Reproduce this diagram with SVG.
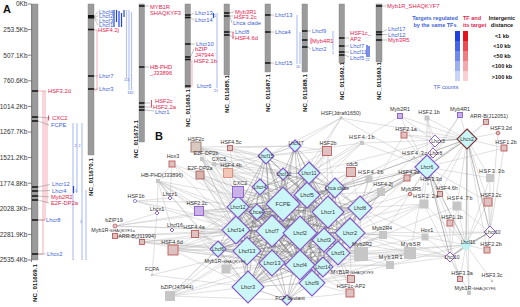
<svg xmlns="http://www.w3.org/2000/svg" width="520" height="307" viewBox="0 0 520 307">
<style>
text{font-family:"Liberation Sans",Arial,sans-serif}
.ax{font-size:6.5px;fill:#333;text-anchor:end}
.g{font-size:5.8px}
.r{fill:#e3244f}
.b{fill:#3f63d4}
.nc{font-size:6.2px;font-weight:bold;fill:#111}
.bar{fill:#9b9b9b;stroke:#7d7d7d;stroke-width:.4}
.band{stroke:#111;stroke-width:1.4;fill:none}
.pk{stroke:#f4aab8;stroke-width:1;fill:none}
.rk{stroke:#e3244f;stroke-width:.8;fill:none}
.lb{stroke:#b4c4f2;stroke-width:1.2;fill:none}
.db{stroke:#2444e0;stroke-width:1.2;fill:none}
.ld{stroke:#666;stroke-width:.4;fill:none}
.num{font-size:3.6px;fill:#3f63d4}
.e1{stroke:#bababa;stroke-width:.45;fill:none}
.e2{stroke:#6e6e6e;stroke-width:.45;fill:none;opacity:.85}
.e3{stroke:#858585;stroke-width:.6;fill:none}
.dm{fill:#cbf6f7;stroke:#8456c9;stroke-width:1.1}
.dw{fill:#fff;stroke:#8456c9;stroke-width:.9}
.dc{fill:#bff2f2}
.tg{fill:#c6c6c6}
.tr{fill:#dec2c2;stroke:#bf5a5a;stroke-width:.9}
.tp{fill:#c9b3e6;stroke:#8a5ccb;stroke-width:.9}
.tb{fill:#d9c9c1;stroke:#9b7a6d;stroke-width:.9}
.nl{font-size:5.4px;fill:#333;text-anchor:middle}
.sp{letter-spacing:.7px}
.il{font-size:5.6px;fill:#333;text-anchor:middle}
.is{font-size:5px;fill:#333;text-anchor:middle}
.sc{font-size:4.2px}
.lg{font-size:5.5px;font-weight:bold;text-anchor:middle}
</style>

<text x="3" y="13" style="font-size:11px;font-weight:bold;fill:#111">A</text>

<g id="axis">
<path d="M31.5 4V262M28 4H31.5M28 29.6H31.5M28 55.2H31.5M28 80.8H31.5M28 106.4H31.5M28 132H31.5M28 157.6H31.5M28 183.2H31.5M28 208.8H31.5M28 234.4H31.5M28 260H31.5" stroke="#333" stroke-width=".6" fill="none"/>
<text class="ax" x="27.5" y="6.3">0Kb</text>
<text class="ax" x="27.5" y="31.9">253.5Kb</text>
<text class="ax" x="27.5" y="57.5">507.1Kb</text>
<text class="ax" x="27.5" y="83.1">760.6Kb</text>
<text class="ax" x="27.5" y="108.7">1014.2Kb</text>
<text class="ax" x="27.5" y="134.3">1267.7Kb</text>
<text class="ax" x="27.5" y="159.9">1521.2Kb</text>
<text class="ax" x="27.5" y="185.5">1774.8Kb</text>
<text class="ax" x="27.5" y="211.1">2028.3Kb</text>
<text class="ax" x="27.5" y="236.7">2281.9Kb</text>
<text class="ax" x="27.5" y="262.3">2535.4Kb</text>
</g>

<g id="chr1">
<path class="pk" d="M38 91H46M43 91V254H38M45 91V220H38M47 118V203"/>
<path class="lb" d="M73 123V257M77 123V193M82 123V257M86 190V257"/>
<path class="db" d="M73.5 186V193"/>
<rect class="bar" x="32" y="4" width="6" height="256"/>
<path class="band" d="M32 91h6M32 117h6M32 121h6M32 187h6M32 191h6M32 196h6M32 200h6M32 220h6M32 254h6"/>
<path class="ld" d="M38 117L50 118M38 121L49 125M38 187L50 184.5M38 191L50 190.5M38 196L49 197M38 200L49 203M38 220H45M38 254H46"/>
<path class="rk" d="M48.5 115.5V120.5"/>
<text class="g r" x="48" y="93">HSF3.2d</text>
<text class="g r" x="52" y="120">CXC2</text>
<text class="g b" x="51" y="127">FCPE</text>
<text class="g b" x="52" y="186">Lhcr12</text>
<text class="g b" x="52" y="192.5">Lhcr4</text>
<text class="g r" x="51" y="199">Myb2R2</text>
<text class="g r" x="51" y="205">E2F-DP2a</text>
<text class="g b" x="46" y="222">Lhcr8</text>
<text class="g b" x="47" y="256">Lhcx2</text>
<text class="num" x="74.5" y="147">2</text><text class="num" x="78.5" y="147">2</text>
<text class="num" x="75" y="192">1</text><text class="num" x="80" y="223">1</text>
<text class="num" x="72" y="260">1</text><text class="num" x="81" y="260">1</text><text class="num" x="85" y="260">1</text>
<text class="nc" transform="translate(37.2,302) rotate(-90)">NC_011669.1</text>
</g>

<g id="chr2">
<path class="pk" d="M94 30H97V90H94"/>
<path class="db" d="M114 10V27M116.5 10V22M119 11V27M121.5 13V27M124 10V17"/>
<path class="lb" d="M126.5 10V78M129 10V90M131.5 12V90"/>
<rect class="bar" x="88" y="4" width="6" height="151"/>
<rect x="88" y="15" width="6" height="3.5" fill="#111"/>
<path class="band" d="M88 29.5h6M88 76h6M88 89h6"/>
<path class="ld" d="M94 17L98 11.5M94 17L98 16M94 17L98 20.5M94 17.5L98 25M94 76H98M94 89H98"/>
<text class="g b" x="99" y="13.5">Lhcf4</text>
<text class="g b" x="99" y="18">Lhcf2</text>
<text class="g b" x="99" y="22.5">Lhcf3</text>
<text class="g b" x="99" y="27">Lhcf1</text>
<text class="g r" x="98" y="32">HSF4.2j</text>
<text class="g b" x="99" y="78">Lhcr7</text>
<text class="g b" x="99" y="91">Lhcr3</text>
<text class="num" x="124" y="81">111</text>
<text class="num" x="127.5" y="93.5">332</text>
<text class="nc" transform="translate(93.2,196) rotate(-90)">NC_011670.1</text>
</g>

<g id="chr3">
<rect class="bar" x="139" y="4" width="5.5" height="138"/>
<path class="band" d="M139 6h5.5M139 67h5.5M139 103h5.5M139 107h5.5M139 110h5.5"/>
<path class="ld" d="M144.5 6H149M144.5 67H149M144.5 103H150M144.5 107H151M144.5 110L154 111"/>
<path class="rk" d="M151.5 100V107.5"/>
<text class="g r" x="150" y="9">MYB1R</text>
<text class="g r" x="150" y="14.5">SHAQKYF3</text>
<text class="g r" x="150" y="69">HB-PHD</text>
<text class="g r" x="150" y="75">_J33896</text>
<text class="g r" x="155" y="103">HSF2c</text>
<text class="g r" x="153" y="108.5">HSF2.2a</text>
<text class="g b" x="155" y="114">Lhcr1</text>
<text class="nc" transform="translate(138.2,158) rotate(-90)">NC_011672.1</text>
</g>

<g id="chr4">
<path class="pk" d="M190 61H192V86H190"/>
<path class="lb" d="M217 13V88"/>
<path class="db" d="M213.5 13V18"/>
<rect class="bar" x="185" y="4" width="5.5" height="84"/>
<path class="band" d="M185 15h5.5M185 17.5h5.5M185 44h5.5M185 57h5.5M185 59.5h5.5M185 86h5.5"/>
<path class="ld" d="M190.5 15L194 13M190.5 17.5L194 20M190.5 44H195M190.5 57L194 49"/>
<text class="g b" x="195" y="15">Lhcr13</text>
<text class="g b" x="195" y="22">Lhcr14</text>
<text class="g b" x="196" y="45.5">Lhcr10</text>
<text class="g r" x="195" y="51">bZIP</text>
<text class="g r" x="195" y="56.5">J47944</text>
<text class="g r" x="194" y="63">HSF2.1b</text>
<text class="g b" x="197" y="88">Lhcr6</text>
<text class="num" x="214" y="17">1</text>
<text class="num" x="214" y="92">21</text>
<text class="nc" transform="translate(189.7,127) rotate(-90)">NC_011683.1</text>
</g>

<g id="chr5">
<rect class="bar" x="224" y="4" width="5.5" height="71"/>
<path class="band" d="M224 13h5.5M224 16h5.5M224 32h5.5M224 35h5.5"/>
<path class="ld" d="M229.5 13L234 12M229.5 16H233M229.5 16L232 23M229.5 32H234M229.5 35L234 38"/>
<path class="rk" d="M233 32V39"/>
<text class="g r" x="235" y="14">Myb3R1</text>
<text class="g r" x="234" y="18.5">HSF3.2c</text>
<text class="g b" x="233" y="25">Lhca clade</text>
<text class="g b" x="235" y="34">Lhcf8</text>
<text class="g r" x="235" y="40">HSF4.6d</text>
<text class="nc" transform="translate(228.7,113) rotate(-90)">NC_011685.1</text>
</g>

<g id="chr6">
<path class="lb" d="M297 15V64M300 32V64"/>
<rect class="bar" x="265" y="4" width="5.5" height="68"/>
<path class="band" d="M265 15h5.5M265 32h5.5M265 63h5.5"/>
<path class="ld" d="M270.5 15H274M270.5 32H274M270.5 63H274"/>
<text class="g b" x="275" y="17">Lhcf13</text>
<text class="g b" x="275" y="34">Lhca4</text>
<text class="g b" x="275" y="65">Lhcf15</text>
<text class="num" x="296" y="68">10</text>
<text class="nc" transform="translate(269.7,112) rotate(-90)">NC_011687.1</text>
</g>

<g id="chr7">
<path class="lb" d="M333 31V50"/>
<rect class="bar" x="302" y="4" width="5.5" height="68"/>
<path class="band" d="M302 31h5.5M302 40h5.5M302 47h5.5"/>
<path class="ld" d="M307.5 31H311M307.5 47L311 49"/>
<path class="rk" d="M311 38V44"/>
<text class="g b" x="312" y="33">Lhcf9</text>
<text class="g r" x="312" y="43">Myb4R1</text>
<text class="g b" x="312" y="51">Lhcr2</text>
<text class="num" x="332" y="54">1</text>
<text class="nc" transform="translate(306.7,112) rotate(-90)">NC_011688.1</text>
</g>

<g id="chr8">
<path class="db" d="M367 45V57M369 46V57"/>
<rect class="bar" x="339" y="4" width="5.5" height="59"/>
<path class="band" d="M339 38h5.5M339 46h5.5M339 52h5.5M339 55h5.5"/>
<path class="ld" d="M344.5 38H349M344.5 46H349M344.5 52H349M344.5 55L349 57"/>
<text class="g r" x="350" y="35">HSF1c_</text>
<text class="g r" x="350" y="40.5">AP2</text>
<text class="g b" x="350" y="48">Lhcf7</text>
<text class="g b" x="350" y="54">Lhcf11</text>
<text class="g b" x="350" y="59.5">Lhcf5</text>
<text class="num" x="365.5" y="61">22</text>
<text class="nc" transform="translate(343.7,100) rotate(-90)">NC_011692.1</text>
</g>

<g id="chr9">
<rect class="bar" x="376" y="4" width="6" height="58"/>
<path class="band" d="M376 6h6M376 32h6M376 34.5h6M376 40h6"/>
<path class="ld" d="M382 6H386M382 32L387 29.5M382 34.5L387 34.5M382 40H387"/>
<text class="g r" x="387" y="8">Myb1R_SHAQKYF7</text>
<text class="g b" x="388" y="31">Lhcf17</text>
<text class="g b" x="388" y="36.5">Lhcf12</text>
<text class="g r" x="388" y="42">Myb3R5</text>
<text class="nc" transform="translate(381.2,100) rotate(-90)">NC_011693.1</text>
</g>

<g id="legend">
<text class="lg b" x="435" y="19.5">Targets regulated</text>
<text class="lg b" x="435" y="26.5">by the same TFs</text>
<text class="lg r" x="463" y="19.5" style="text-anchor:start">TF and</text>
<text class="lg r" x="463" y="26.5" style="text-anchor:start">its target</text>
<text class="lg" x="502" y="19.5" fill="#111">Intergenic</text>
<text class="lg" x="502" y="26.5" fill="#111">distance</text>
<rect x="455" y="31" width="5" height="10" fill="#1f3fe0"/>
<rect x="455" y="41" width="5" height="10" fill="#4565e6"/>
<rect x="455" y="51" width="5" height="10" fill="#6f89ec"/>
<rect x="455" y="61" width="5" height="10" fill="#9cb0f2"/>
<rect x="455" y="71" width="5" height="10" fill="#c9d4f8"/>
<rect x="463" y="31" width="5" height="10" fill="#e3141e"/>
<rect x="463" y="41" width="5" height="10" fill="#ea4a50"/>
<rect x="463" y="51" width="5" height="10" fill="#f07d82"/>
<rect x="463" y="61" width="5" height="10" fill="#f5a9ac"/>
<rect x="463" y="71" width="5" height="10" fill="#fad0d2"/>
<text class="lg" x="502" y="38" fill="#111">&lt;1 kb</text>
<text class="lg" x="502" y="48" fill="#111">&lt;10 kb</text>
<text class="lg" x="502" y="58" fill="#111">&lt;50 kb</text>
<text class="lg" x="502" y="68" fill="#111">&lt;100 kb</text>
<text class="lg" x="502" y="78.5" fill="#111">&gt;100 kb</text>
<text x="446" y="88.5" style="font-size:5.6px;text-anchor:middle" class="b">TF counts</text>
</g>

<text x="155" y="139.5" style="font-size:11px;font-weight:bold;fill:#111">B</text>

<g id="connectors">
<path class="e1" d="M196 147L283 204M196 147L309 173M196 147L266 156M196 147L295 146M196 147L283 174M196 147L238 207M196 147L236 230M196 147L307 195M196 147L328 212M196 147L335 188M196 147L272 231M230 148L266 156M230 148L283 204M230 148L309 173M230 148L295 146M230 148L238 207M230 148L307 195M202 159L283 204M202 159L272 231M202 159L272 263M202 159L238 207M202 159L236 230M202 159L307 195M214 164L283 204M214 164L266 156M214 164L283 174M214 164L238 207M214 164L309 173M172 164L158 181M172 164L283 204M172 164L272 231M172 164L236 230M172 164L170 198M200 175L283 204M200 175L272 231M200 175L300 233M200 175L238 207M200 175L236 230M200 175L247 251M200 175L272 263M200 175L300 265M228 173L283 204M228 173L307 195M228 173L309 173M228 173L266 156M228 173L238 207M228 173L257 212M228 173L328 212M158 181L283 204M158 181L272 231M158 181L247 251M158 181L236 230M158 181L272 263M158 181L248 287M158 181L170 198M158 181L157 213M158 181L172 230M158 181L218 249M158 181L300 233M238 192L283 204M238 192L272 231M238 192L300 233M238 192L328 212M238 192L257 212M238 192L247 251M238 192L260 187M238 192L307 195M135 201L170 198M135 201L283 204M135 201L236 230M135 201L272 231M199 211L283 204M199 211L272 231M199 211L238 207M199 211L257 212M199 211L236 230M199 211L247 251M199 211L272 263M199 211L300 233M195 234L272 231M195 234L236 230M195 234L247 251M195 234L272 263M195 234L218 249M195 234L248 287M195 234L283 204M173 250L283 204M173 250L272 231M173 250L300 233M173 250L236 230M173 250L247 251M173 250L272 263M173 250L300 265M173 250L248 287M173 250L218 249M173 250L238 207M226 269L248 287M226 269L272 263M226 269L247 251M226 269L300 265M226 269L272 231M226 269L300 233M152 275L248 287M152 275L157 213M152 275L247 251M170 296L248 287M170 296L272 263M170 296L247 251M170 296L300 265M170 296L272 231M170 296L218 249M170 296L287 300M170 296L236 230M170 296L283 204M115 226L283 204M115 226L236 230M115 226L238 207M115 226L157 213M115 226L272 231M115 236L236 230M115 236L247 251M115 236L272 231M142 242L272 231M142 242L247 251M142 242L218 249M142 242L236 230M142 242L272 263"/>
<path class="e1" d="M341 118L295 146M341 118L266 156M341 118L309 173M341 118L427 167M341 118L467 139M341 118L283 204M362 143L309 173M362 143L307 195M362 143L283 204M362 143L427 167M362 143L467 139M362 143L266 156M327 151L295 146M327 151L309 173M327 151L307 195M327 151L283 204M327 151L328 212M327 151L266 156M327 151L283 174M327 151L335 188M327 151L272 231M351 172L309 173M351 172L307 195M351 172L328 212M351 172L335 188M351 172L360 208M351 172L283 204M351 172L300 233M369 179L328 212M369 179L335 188M369 179L360 208M369 179L350 233M369 179L307 195M369 179L427 167M369 179L283 204M414 157L427 167M414 157L360 208M400 116L427 167M400 116L435 141M400 116L467 139M400 116L309 173M427 118L435 141M427 118L427 167M427 118L467 139M427 118L433 153M460 115L467 139M460 115L433 153M460 115L427 167M486 122L467 139M486 122L427 167M498 133L467 139M498 133L490 232M404 135L427 167M404 135L435 141M404 135L467 139M404 135L360 208M504 148L467 139M504 148L427 167M504 148L490 232M407 178L427 167M407 178L360 208M407 178L350 233M428 184L427 167M490 178L467 139M490 178L427 167M490 178L490 232M490 178L466 245M381 192L360 208M381 192L350 233M381 192L328 212M381 192L338 253M381 192L427 167M381 192L307 195M410 194L427 167M410 194L360 208M410 194L350 233M440 194L427 167M440 194L467 139M424 204L427 167M424 204L467 139M424 204L466 245M424 204L450 257M424 204L350 233M424 204L338 253M424 204L300 233M424 204L360 208M457 206L467 139M457 206L427 167M457 206L466 245M457 206L490 232M457 206L450 257M457 206L338 253M488 202L467 139M488 202L427 167M488 202L490 232M488 202L466 245M450 223L466 245M450 223L450 257M450 223L427 167M383 235L350 233M383 235L338 253M383 235L300 233M383 235L360 208M383 235L427 167M383 235L450 257M383 235L323 267M425 237L490 232M425 237L466 245M425 237L450 257M425 237L350 233M425 237L338 253M425 237L360 208M410 253L338 253M410 253L350 233M410 253L323 267M410 253L300 265M410 253L300 233M410 253L450 257M410 253L427 167M410 253L312 283M390 265L338 253M390 265L323 267M390 265L312 283M390 265L300 265M390 265L466 245M390 265L450 257M487 250L466 245M487 250L467 139M487 250L490 232M460 279L466 245M460 279L450 257M460 279L427 167M492 281L466 245M469 293L466 245M469 293L450 257M469 293L467 139M361 254L338 253M361 254L350 233M361 254L324 240M361 254L323 267M361 254L300 233M361 254L328 212M361 254L360 208M361 254L300 265M361 254L312 283M361 254L283 204M361 254L466 245M351 279L338 253M351 279L323 267M351 279L312 283M351 279L350 233M351 279L300 265M350 293L312 283M350 293L323 267M350 293L338 253M350 293L287 300M350 293L300 265M435 141L309 173M435 141L335 188M433 153L360 208M467 139L360 208M450 257L350 233M450 257L338 253M466 245L338 253M490 232L350 233"/>
<path class="e3" d="M427 167L435 141M427 167L433 153M427 167L467 139M467 139L490 232M427 167L450 257M427 167L466 245M467 139L466 245M427 167L360 208M427 167L328 212M435 141L467 139M466 245L450 257M490 232L450 257M466 245L490 232M427 167L283 204M467 139L335 188"/>
<path class="e2" d="M260 187L283 204M260 187L272 231M260 187L300 233M260 187L328 212M260 187L307 195M260 187L309 173M260 187L272 263M260 187L247 251M260 187L236 230M260 187L300 265M283 174L283 204M283 174L272 231M283 174L300 233M283 174L328 212M283 174L307 195M283 174L309 173M283 174L300 265M283 174L272 263M283 174L335 188M283 174L238 207M266 156L283 204M266 156L272 231M266 156L300 233M266 156L328 212M266 156L307 195M266 156L309 173M266 156L238 207M266 156L236 230M266 156L272 263M266 156L300 265M266 156L247 251M218 249L283 204M218 249L272 231M218 249L300 233M218 249L272 263M218 249L247 251M218 249L236 230M218 249L248 287M218 249L300 265M218 249L238 207M218 249L328 212M287 300L272 231M287 300L300 233M287 300L300 265M287 300L272 263M287 300L312 283M287 300L248 287M287 300L323 267M287 300L247 251M287 300L324 240M295 146L283 204M295 146L309 173M295 146L307 195M295 146L328 212M295 146L335 188M295 146L266 156M295 146L283 174M295 146L300 233M295 146L272 231"/>
<path class="e2" d="M283 204L272 231M283 204L300 233M283 204L328 212M283 204L307 195M283 204L309 173M283 204L350 233M283 204L324 240M283 204L338 253M283 204L300 265M283 204L272 263M283 204L323 267M283 204L312 283M283 204L248 287M283 204L247 251M283 204L236 230M283 204L238 207M283 204L257 212M283 204L335 188M283 204L360 208M272 231L300 233M272 231L328 212M272 231L307 195M272 231L309 173M272 231L350 233M272 231L324 240M272 231L338 253M272 231L300 265M272 231L272 263M272 231L323 267M272 231L312 283M272 231L248 287M272 231L247 251M272 231L236 230M272 231L238 207M272 231L257 212M272 231L335 188M272 231L360 208M300 233L328 212M300 233L307 195M300 233L309 173M300 233L350 233M300 233L324 240M300 233L338 253M300 233L300 265M300 233L272 263M300 233L323 267M300 233L312 283M300 233L248 287M300 233L247 251M300 233L236 230M300 233L238 207M300 233L257 212M300 233L335 188M300 233L360 208M328 212L307 195M328 212L309 173M328 212L350 233M328 212L324 240M328 212L338 253M328 212L300 265M328 212L272 263M328 212L323 267M328 212L312 283M328 212L248 287M328 212L247 251M328 212L236 230M328 212L238 207M328 212L257 212M328 212L335 188M328 212L360 208M307 195L309 173M307 195L350 233M307 195L324 240M307 195L338 253M307 195L300 265M307 195L272 263M307 195L323 267M307 195L312 283M307 195L248 287M307 195L247 251M307 195L236 230M307 195L238 207M307 195L257 212M307 195L335 188M307 195L360 208M309 173L350 233M309 173L324 240M309 173L338 253M309 173L300 265M309 173L272 263M309 173L323 267M309 173L312 283M309 173L248 287M309 173L247 251M309 173L236 230M309 173L238 207M309 173L257 212M309 173L335 188M309 173L360 208"/>
<path class="e2" d="M350 233L324 240M350 233L338 253M350 233L300 265M350 233L272 263M350 233L323 267M350 233L312 283M350 233L248 287M350 233L247 251M350 233L236 230M350 233L238 207M350 233L257 212M350 233L335 188M350 233L360 208M324 240L338 253M324 240L300 265M324 240L272 263M324 240L323 267M324 240L312 283M324 240L248 287M324 240L247 251M324 240L236 230M324 240L238 207M324 240L257 212M324 240L335 188M324 240L360 208M338 253L300 265M338 253L272 263M338 253L323 267M338 253L312 283M338 253L248 287M338 253L247 251M338 253L236 230M338 253L238 207M338 253L257 212M338 253L335 188M338 253L360 208M300 265L272 263M300 265L323 267M300 265L312 283M300 265L248 287M300 265L247 251M300 265L236 230M300 265L238 207M300 265L257 212M300 265L335 188M300 265L360 208M272 263L323 267M272 263L312 283M272 263L248 287M272 263L247 251M272 263L236 230M272 263L238 207M272 263L257 212M272 263L335 188M272 263L360 208M323 267L312 283M323 267L248 287M323 267L247 251M323 267L236 230M323 267L238 207M323 267L257 212M323 267L335 188M323 267L360 208M312 283L248 287M312 283L247 251M312 283L236 230M312 283L238 207M312 283L257 212M312 283L335 188M312 283L360 208M248 287L247 251M248 287L236 230M248 287L238 207M248 287L257 212M248 287L335 188M248 287L360 208M247 251L236 230M247 251L238 207M247 251L257 212M247 251L335 188M247 251L360 208M236 230L238 207M236 230L257 212M236 230L335 188M236 230L360 208M238 207L257 212M238 207L335 188M238 207L360 208M257 212L335 188M257 212L360 208M335 188L360 208"/>
</g>

<g id="n-FCPE"><path class="dm" d="M283 187l17 17l-17 17l-17-17z"/><text class="il" x="283" y="206">FCPE</text></g>
<g id="n-Lhcf7"><path class="dm" d="M272 215l16 16l-16 16l-16-16z"/><text class="il" x="272" y="233">Lhcf7</text></g>
<g id="n-Lhcf2"><path class="dm" d="M300 216l17 17l-17 17l-17-17z"/><text class="il" x="300" y="235">Lhcf2</text></g>
<g id="n-Lhcr1"><path class="dm" d="M328 196l16 16l-16 16l-16-16z"/><text class="il" x="328" y="214">Lhcr1</text></g>
<g id="n-Lhcf5"><path class="dm" d="M307 182l13 13l-13 13l-13-13z"/><text class="il" x="307" y="197">Lhcf5</text></g>
<g id="n-Lhcr11"><path class="dm" d="M309 162l11 11l-11 11l-11-11z"/><text class="is" x="309" y="175">Lhcr11</text></g>
<g id="n-Lhcr2"><path class="dm" d="M350 218l15 15l-15 15l-15-15z"/><text class="il" x="350" y="235">Lhcr2</text></g>
<g id="n-Lhcf3"><path class="dm" d="M324 228l12 12l-12 12l-12-12z"/><text class="il" x="324" y="242">Lhcf3</text></g>
<g id="n-Lhcf1"><path class="dm" d="M338 241l12 12l-12 12l-12-12z"/><text class="il" x="338" y="255">Lhcf1</text></g>
<g id="n-Lhcf4"><path class="dm" d="M300 250l15 15l-15 15l-15-15z"/><text class="il" x="300" y="267">Lhcf4</text></g>
<g id="n-Lhcr13"><path class="dm" d="M272 250l13 13l-13 13l-13-13z"/><text class="il" x="272" y="265">Lhcr13</text></g>
<g id="n-Lhcr14"><path class="dm" d="M323 257l10 10l-10 10l-10-10z"/><text class="is" x="323" y="269">Lhcr14</text></g>
<g id="n-Lhcf9"><path class="dm" d="M312 270l13 13l-13 13l-13-13z"/><text class="il" x="312" y="285">Lhcf9</text></g>
<g id="n-Lhcr3"><path class="dm" d="M248 271l16 16l-16 16l-16-16z"/><text class="il" x="248" y="289">Lhcr3</text></g>
<g id="n-Lhcf13"><path class="dm" d="M247 237l14 14l-14 14l-14-14z"/><text class="il" x="247" y="253">Lhcf13</text></g>
<g id="n-Lhcf14"><path class="dm" d="M236 216l14 14l-14 14l-14-14z"/><text class="il" x="236" y="232">Lhcf14</text></g>
<g id="n-Lhcr12"><path class="dm" d="M238 196l11 11l-11 11l-11-11z"/><text class="is" x="238" y="209">Lhcr12</text></g>
<g id="n-Lhca4"><path class="dm" d="M257 204l8 8l-8 8l-8-8z"/><text class="is" x="257" y="214">Lhca4</text></g>
<g id="n-Lhcaclade"><path class="dm" d="M335 178l10 10l-10 10l-10-10z"/><text class="is" x="337" y="190">Lhca clade</text></g>
<g id="n-Lhcf8"><path class="dm" d="M360 196l12 12l-12 12l-12-12z"/><text class="is" x="360" y="210">Lhcf8</text></g>
<g id="n-Lhcr4"><path class="dm" d="M260 179l8 8l-8 8l-8-8z"/><text class="is" x="260" y="189">Lhcr4</text></g>
<g id="n-Lhcf12"><path class="dm" d="M283 168l6 6l-6 6l-6-6z"/><text class="is" x="284" y="176">Lhcf12</text></g>
<g id="n-Lhcf15"><path class="dm" d="M266 148l8 8l-8 8l-8-8z"/><text class="is" x="266" y="158">Lhcf15</text></g>
<g id="n-Lhcf17"><path class="dm" d="M295 140l6 6l-6 6l-6-6z"/><text class="is" x="296" y="144.5">Lhcf17</text></g>
<g id="n-Lhcf6"><path class="dm" d="M218 241l8 8l-8 8l-8-8z"/><text class="is" x="218" y="251">Lhcf6</text></g>
<g id="n-FCPdeviant"><path class="dm" d="M287 295l5 5l-5 5l-5-5z"/><text class="nl" x="290" y="300">FCP deviant</text></g>
<g id="n-Lhcr6"><path class="dm" d="M427 155l12 12l-12 12l-12-12z"/><text class="is" x="427" y="169">Lhcr6</text></g>
<g id="n-Lhcx3"><path class="dw" d="M435 135l6 6l-6 6l-6-6z"/><text class="is" x="438" y="143">Lhcx3</text></g>
<g id="n-Lhcr8"><path class="dw" d="M433 148l5 5l-5 5l-5-5z"/><text class="is" x="436" y="154.5">Lhcr8</text></g>
<g id="n-Lhcx2"><path d="M467 129l10 10l-10 10l-10-10z" fill="#cbf6f7" stroke="#7a3434" stroke-width="1.1"/><text class="is" x="467" y="141">Lhcx2</text></g>
<g id="n-Lhcr10"><path class="dw" d="M490 226l6 6l-6 6l-6-6z"/><text class="is" x="493" y="234">Lhcr10</text></g>
<g id="n-Lhcf11"><path class="dc" d="M466 239l6 6l-6 6l-6-6z"/><text class="is" x="468" y="244">Lhcf11</text></g>
<g id="n-Lhcf10"><path class="dw" d="M450 252l5 5l-5 5l-5-5z"/><text class="is" x="452" y="259">Lhcf10</text></g>
<g id="n-Lhcz1"><path class="dw" d="M170 196l2 2l-2 2l-2-2z"/><text class="nl" x="170" y="195.5">Lhcz1</text></g>
<g id="n-Lhcx1"><path class="dw" d="M157 211l2 2l-2 2l-2-2z"/><text class="nl" x="157" y="210.5">Lhcx1</text></g>
<g id="n-Lhcf16"><path class="dw" d="M172 228l2 2l-2 2l-2-2z"/><text class="nl" x="175" y="226.5">Lhcf16</text></g>
<g id="n-FCPA"><circle cx="152" cy="275" r="1.2" class="tg"/><text class="nl" x="152" y="271">FCPA</text></g>

<g id="n-HSF2c"><rect class="tb" x="191" y="142" width="10" height="10"/><text class="nl" x="196" y="140.5">HSF2c</text></g>
<g id="n-HSF4.5c"><rect class="tr" x="227.5" y="145.5" width="5" height="5"/><text class="nl" x="231" y="143.5">HSF4.5c</text></g>
<g id="n-E2F-DP2b"><rect class="tg" x="200" y="157" width="4" height="4"/><text class="nl" x="206" y="155">E2F-DP2b</text></g>
<g id="n-CXC5"><rect class="tg" x="212" y="162" width="4" height="4"/><text class="nl" x="219" y="161">CXC5</text></g>
<g id="n-Hox3"><rect class="tr" x="169" y="161" width="6" height="6"/><text class="nl" x="173" y="158">Hox3</text></g>
<g id="n-E2F-DP2a"><rect x="196" y="171" width="8" height="8" fill="#d8b4ac" stroke="#a86060" stroke-width=".9"/><text class="nl" x="200" y="169.5">E2F-DP2a</text></g>
<g id="n-HSF4.4b"><rect x="223.5" y="168.5" width="9" height="9" fill="#f2c6b4" stroke="#d98c7c" stroke-width=".9"/><text class="nl" x="231" y="167">HSF4.4b</text></g>
<g id="n-HB-PHD"><rect class="tg" x="156" y="179" width="4" height="4"/><text class="nl" x="162" y="177">HB-PHD(J33896)</text></g>
<g id="n-CXC2"><rect class="tp" x="232.5" y="186.5" width="11" height="11"/><text class="nl" x="240" y="185">CXC2</text></g>
<g id="n-HSF1b"><circle cx="135" cy="201" r="1.6" fill="#fff" stroke="#6a5acd" stroke-width=".7"/><text class="nl" x="136" y="197.5">HSF1b</text></g>
<g id="n-HSF2.2c"><rect class="tp" x="194.5" y="206.5" width="9" height="9"/><text class="nl" x="197" y="205">HSF2.2c</text></g>
<g id="n-HSF4.4a"><rect class="tr" x="191.5" y="230.5" width="7" height="7"/><text class="nl" x="194" y="229">HSF4.4a</text></g>
<g id="n-HSF4.6d"><rect class="tr" x="168" y="245" width="10" height="10"/><text class="nl" x="172" y="243.5">HSF4.6d</text></g>
<g id="n-Myb1R-SHAQKYF4"><rect class="tg" x="221.5" y="264.5" width="9" height="9"/><text class="nl" x="225" y="263">Myb1R-<tspan class="sc">SHAQKYF4</tspan></text></g>
<g id="n-bZIP-J47944"><rect class="tg" x="165" y="291" width="10" height="10"/><text class="nl" x="177" y="289">bZIP(J47944)</text></g>
<g id="n-bZIP19"><circle cx="115" cy="226" r="2" fill="#e9c6c6" stroke="#bf5a5a" stroke-width=".8"/><text class="nl" x="114" y="221.5">bZIP19</text></g>
<g id="n-Myb1R-SHAQKYF1a"><rect class="tr" x="112.5" y="233.5" width="5" height="5"/><text class="nl" x="113" y="231.5">Myb1R-<tspan class="sc">SHAQKYF1a</tspan></text></g>
<g id="n-ARR-B-J11994"><rect class="tr" x="139.5" y="239.5" width="5" height="5"/><text class="nl" x="137" y="238">ARR-B(J11994)</text></g>

<g id="n-HSF-Jdraft1650"><rect class="tg" x="339.5" y="116.5" width="3" height="3"/><text class="nl" x="341" y="114.5">HSF(Jdraft1650)</text></g>
<g id="n-HSF4.1b"><rect class="tg" x="360" y="141" width="4" height="4"/><text class="nl sp" x="362" y="139">HSF4.1b</text></g>
<g id="n-HSF2b"><rect class="tr" x="322.5" y="146.5" width="9" height="9"/><text class="nl" x="328" y="145">HSF2b</text></g>
<g id="n-cdc5"><rect class="tr" x="346.5" y="167.5" width="9" height="9"/><text class="nl" x="352" y="166">cdc5</text></g>
<g id="n-HSF4.3b"><rect class="tg" x="365.5" y="175.5" width="7" height="7"/><text class="nl sp" x="371" y="174">HSF4.3b</text></g>
<g id="n-HSF4.3c"><circle class="tg" cx="414" cy="157" r="1.2"/><text class="nl sp" x="415" y="155">HSF4.3c</text></g>
<g id="n-Myb2R1"><rect class="tp" x="397.5" y="113.5" width="5" height="5"/><text class="nl" x="400" y="111">Myb2R1</text></g>
<g id="n-HSF2.1b"><rect class="tg" x="424.5" y="115.5" width="5" height="5"/><text class="nl" x="429" y="113.5">HSF2.1b</text></g>
<g id="n-Myb4R1"><rect class="tp" x="457.5" y="112.5" width="5" height="5"/><text class="nl" x="460" y="110.5">Myb4R1</text></g>
<g id="n-ARR-B-J12051"><rect class="tr" x="483.5" y="119.5" width="5" height="5"/><text class="nl" x="489" y="117.5">ARR-B(J12051)</text></g>
<g id="n-HSF3.2d"><circle class="tr" cx="498" cy="133" r="1.8"/><text class="nl" x="501" y="130">HSF3.2d</text></g>
<g id="n-HSF2.1a"><rect class="tr" x="401" y="132" width="6" height="6"/><text class="nl" x="406" y="130.5">HSF2.1a</text></g>
<g id="n-HSF1.2b"><rect class="tr" x="501" y="145" width="6" height="6"/><text class="nl" x="506" y="143.5">HSF1.2b</text></g>
<g id="n-HSF4.3a"><rect class="tr" x="404" y="175" width="6" height="6"/><text class="nl" x="409" y="173.5">HSF4.3a</text></g>
<g id="n-HSF3.3d"><circle class="tg" cx="428" cy="184" r="1.2"/><text class="nl" x="431" y="181">HSF3.3d</text></g>
<g id="n-HSF3.3b"><rect class="tg" x="486" y="174" width="8" height="8"/><text class="nl sp" x="492" y="172.5">HSF3.3b</text></g>
<g id="n-HSF4.2j"><rect class="tg" x="377" y="188" width="8" height="8"/><text class="nl" x="383" y="186">HSF4.2j</text></g>
<g id="n-Myb3R5"><circle class="tr" cx="410" cy="194" r="1.8"/><text class="nl" x="411" y="190.5">Myb3R5</text></g>
<g id="n-HSF4.6h"><rect class="tr" x="437.5" y="191.5" width="5" height="5"/><text class="nl" x="447" y="190">HSF4.6h</text></g>
<g id="n-HSF2.2a"><rect class="tg" x="419.5" y="199.5" width="9" height="9"/><text class="nl sp" x="426" y="198">HSF2.2a</text></g>
<g id="n-HSF4.7b"><rect class="tg" x="452.5" y="201.5" width="9" height="9"/><text class="nl sp" x="460" y="199.5">HSF4.7b</text></g>
<g id="n-HSF3.2c"><rect class="tr" x="484" y="198" width="8" height="8"/><text class="nl" x="491" y="196.5">HSF3.2c</text></g>
<g id="n-HSF1.1b"><rect class="tr" x="447" y="220" width="6" height="6"/><text class="nl" x="452" y="218.5">HSF1.1b</text></g>
<g id="n-Myb2R4"><rect class="tg" x="379" y="231" width="8" height="8"/><text class="nl" x="382" y="229.5">Myb2R4</text></g>
<g id="n-Hox1"><rect class="tg" x="421.5" y="233.5" width="7" height="7"/><text class="nl" x="427" y="231.5">Hox1</text></g>
<g id="n-Myb5R"><rect class="tg" x="404" y="247" width="12" height="12"/><text class="nl sp" x="411" y="245.5">Myb5R</text></g>
<g id="n-Myb3R1"><rect class="tg" x="386" y="261" width="8" height="8"/><text class="nl sp" x="391" y="259">Myb3R1</text></g>
<g id="n-HSF2.2b"><rect class="tr" x="484" y="247" width="6" height="6"/><text class="nl" x="491" y="245.5">HSF2.2b</text></g>
<g id="n-HSF3.3a"><rect class="tr" x="457.5" y="276.5" width="5" height="5"/><text class="nl" x="462" y="275">HSF3.3a</text></g>
<g id="n-HSF3.3c"><circle class="tg" cx="492" cy="281" r="1.2"/><text class="nl" x="492" y="277">HSF3.3c</text></g>
<g id="n-Myb1R-SHAQKYF6"><rect class="tg" x="467" y="291" width="4" height="4"/><text class="nl" x="475" y="289.5">Myb1R-<tspan class="sc">SHAQKYF6</tspan></text></g>
<g id="n-Myb2R2"><rect class="tg" x="354" y="247" width="14" height="14"/><text class="nl" x="362" y="245.5">Myb2R2</text></g>
<g id="n-MYB1R-SHAQKYF3"><rect class="tr" x="347.5" y="275.5" width="7" height="7"/><text class="nl" x="352" y="274">MYB1R-<tspan class="sc">SHAQKYF3</tspan></text></g>
<g id="n-HSF1c-AP2"><rect class="tr" x="346" y="289" width="8" height="8"/><text class="nl" x="351" y="287.5">HSF1c-AP2</text></g>
</svg>
